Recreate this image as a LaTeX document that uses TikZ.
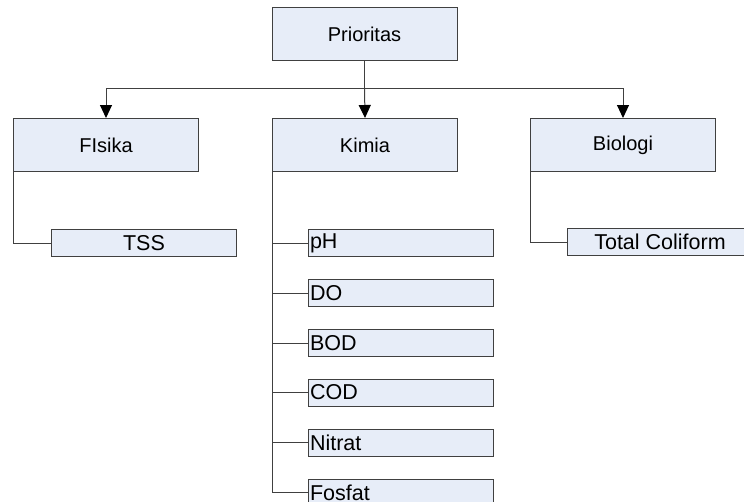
\documentclass[tikz,border=0pt]{standalone}
\usepackage{fontspec}
\setmainfont{Liberation Sans}
\usetikzlibrary{arrows.meta}
\definecolor{boxfill}{RGB}{231,237,248}
\definecolor{edge}{RGB}{64,64,64}
\tikzset{
  mainbox/.style={draw=edge, fill=boxfill, line width=1pt, rectangle, anchor=north west,
    minimum width=185pt, minimum height=53pt, inner sep=0pt, font=\fontsize{20}{24}\selectfont},
  subbox/.style={draw=edge, fill=boxfill, line width=1pt, rectangle, anchor=north west,
    minimum width=185pt, minimum height=27pt, inner sep=0pt, font=\fontsize{21.5}{25}\selectfont},
  leftbox/.style={subbox, text width=182pt, inner xsep=1.5pt, align=left},
  link/.style={draw=edge, line width=1pt},
  arrowlink/.style={link, -{Triangle[width=12pt,length=13pt,color=black]}}
}
\begin{document}
\begin{tikzpicture}[x=1pt,y=-1pt]
\useasboundingbox (0,0) rectangle (744,501);
\clip (0,0) rectangle (744,501);
\node[mainbox] (pri) at (271.5,7) {Prioritas};
\node[mainbox] (fis) at (13,118) {FIsika};
\node[mainbox] (kim) at (272,118) {Kimia};
\node[mainbox] (bio) at (530,118) {Biologi};
\node[subbox] (tss) at (51,229) {TSS};
\node[subbox] (tc) at (567,228) {Total Coliform};
\node[leftbox] (ph) at (308,229) {pH};
\node[leftbox] (do) at (308,279) {DO};
\node[leftbox] (bod) at (308,329) {BOD};
\node[leftbox] (cod) at (308,378.5) {COD};
\node[leftbox] (nit) at (308,428.5) {Nitrat};
\node[leftbox] (fos) at (308,478.5) {Fosfat};
\coordinate (j) at (364.5,88);
\draw[link] (pri.south) -- (j);
\draw[link] (fis.north |- j) -- (bio.north |- j);
\draw[arrowlink] (fis.north |- j) -- (fis.north);
\draw[arrowlink] (j) -- (kim.north);
\draw[arrowlink] (bio.north |- j) -- (bio.north);
\draw[link] (fis.south west) |- (tss.west);
\draw[link] (bio.south west) |- (tc.west);
\draw[link] (kim.south west) |- (fos.west);
\foreach \b in {ph,do,bod,cod,nit}{
  \draw[link] (kim.south west |- \b.west) -- (\b.west);
}
\end{tikzpicture}
\end{document}
